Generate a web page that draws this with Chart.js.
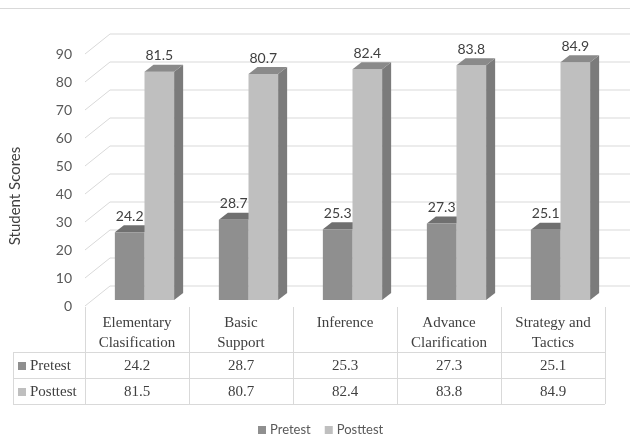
<!DOCTYPE html>
<html>
<head>
<meta charset="utf-8">
<script src="https://cdn.jsdelivr.net/npm/chart.js@4/dist/chart.umd.min.js"></script>
<style>
  html, body { margin: 0; padding: 0; background: #ffffff; }
  #wrap { width: 630px; height: 439px; position: relative; }
</style>
</head>
<body>
<div id="wrap"><canvas id="c" width="630" height="439"></canvas></div>
<script>
// Category names (one entry per table column, split into header lines)
const categories = [
  ['Elementary', 'Clasification'],
  ['Basic', 'Support'],
  ['Inference'],
  ['Advance', 'Clarification'],
  ['Strategy and', 'Tactics']
];
const seriesNames = ['Pretest', 'Posttest'];
const pretest = [24.2, 28.7, 25.3, 27.3, 25.1];
const posttest = [81.5, 80.7, 82.4, 83.8, 84.9];
const yTicks = [0, 10, 20, 30, 40, 50, 60, 70, 80, 90];
const yTitle = 'Student Scores';

// Face colours for the extruded columns
const colors = {
  pre:  { front: '#8f8f8f', top: '#707070', side: '#6a6a6a' },
  post: { front: '#bfbfbf', top: '#8a8a8a', side: '#7b7b7b' }
};

// Oblique projection offsets relative to the plane the bars are drawn in
const G = {
  frontX: -7.5, frontY: 6,    // front edge of the floor / wall
  backX: 17.5, backY: -14,    // back wall
  depthX: 9, depthY: -7       // depth of each column
};

const SANS = 'Lato, "Open Sans", sans-serif';
const SERIF = '"Liberation Serif", "DejaVu Serif", serif';
const GRID = '#d9d9d9';

function poly(ctx, pts, fill) {
  ctx.beginPath();
  ctx.moveTo(pts[0][0], pts[0][1]);
  for (let i = 1; i < pts.length; i++) ctx.lineTo(pts[i][0], pts[i][1]);
  ctx.closePath();
  ctx.fillStyle = fill;
  ctx.fill();
}

const scene3d = {
  id: 'scene3d',
  beforeDatasetsDraw(chart) {
    const { ctx, chartArea: a, scales: { y } } = chart;
    ctx.save();
    // wall grid: diagonal on the side wall, horizontal on the back wall
    ctx.strokeStyle = GRID;
    ctx.lineWidth = 1;
    yTicks.forEach(v => {
      const py = y.getPixelForValue(v);
      ctx.beginPath();
      ctx.moveTo(a.left + G.frontX, py + G.frontY);
      ctx.lineTo(a.left + G.backX, py + G.backY);
      ctx.lineTo(a.right + G.backX, py + G.backY);
      ctx.stroke();
    });
    // top faces of the front-left series (partly hidden by the next column)
    chart.getDatasetMeta(0).data.forEach(bar => {
      const x0 = bar.x - bar.width / 2, x1 = bar.x + bar.width / 2, t = bar.y;
      poly(ctx, [[x0, t], [x1, t], [x1 + G.depthX, t + G.depthY], [x0 + G.depthX, t + G.depthY]], colors.pre.top);
    });
    ctx.restore();
  },
  afterDatasetsDraw(chart) {
    const { ctx, chartArea: a, scales: { x, y } } = chart;
    ctx.save();
    // side and top faces of the second series
    chart.getDatasetMeta(1).data.forEach(bar => {
      const x0 = bar.x - bar.width / 2, x1 = bar.x + bar.width / 2, t = bar.y, b = bar.base;
      poly(ctx, [[x1, t], [x1 + G.depthX, t + G.depthY], [x1 + G.depthX, b + G.depthY], [x1, b]], colors.post.side);
      poly(ctx, [[x0, t], [x1, t], [x1 + G.depthX, t + G.depthY], [x0 + G.depthX, t + G.depthY]], colors.post.top);
    });

    // value labels above each column
    ctx.font = '14px ' + SANS;
    ctx.fillStyle = '#404040';
    ctx.textAlign = 'center';
    ctx.textBaseline = 'middle';
    [0, 1].forEach(di => {
      const vals = chart.data.datasets[di].data;
      chart.getDatasetMeta(di).data.forEach((bar, i) => {
        ctx.fillText(vals[i].toFixed(1), bar.x, bar.y - 16);
      });
    });

    // y tick labels on the front edge
    ctx.font = '14px ' + SANS;
    ctx.fillStyle = '#595959';
    ctx.textAlign = 'right';
    yTicks.forEach(v => {
      ctx.fillText(String(v), a.left - 20.5, y.getPixelForValue(v) + G.frontY);
    });

    // axis title
    ctx.save();
    ctx.translate(15, 196);
    ctx.rotate(-Math.PI / 2);
    ctx.textAlign = 'center';
    ctx.font = '15px ' + SANS;
    ctx.fillStyle = '#404040';
    ctx.fillText(yTitle, 0, 0);
    ctx.restore();

    // data table under the plot
    const step = (a.right - a.left) / categories.length;
    const colEdge = i => a.left + G.frontX + i * step;
    const headTop = y.getPixelForValue(0) + G.frontY + 1;
    const row1 = 352, row2 = 378, row3 = 404, labelLeft = 13;
    ctx.strokeStyle = GRID;
    ctx.lineWidth = 1;
    ctx.beginPath();
    [row1, row2, row3].forEach(ry => {
      ctx.moveTo(labelLeft, ry + 0.5);
      ctx.lineTo(colEdge(categories.length), ry + 0.5);
    });
    ctx.moveTo(labelLeft + 0.5, row1);
    ctx.lineTo(labelLeft + 0.5, row3);
    for (let i = 0; i <= categories.length; i++) {
      const cx = Math.round(colEdge(i)) + 0.5;
      ctx.moveTo(cx, headTop);
      ctx.lineTo(cx, row3);
    }
    ctx.stroke();

    ctx.font = '15px ' + SERIF;
    ctx.fillStyle = '#404040';
    ctx.textAlign = 'center';
    ctx.textBaseline = 'middle';
    categories.forEach((lines, i) => {
      const cx = x.getPixelForValue(i) + G.frontX;
      lines.forEach((ln, k) => ctx.fillText(ln, cx, 323 + k * 20));
      ctx.fillText(pretest[i].toFixed(1), cx, (row1 + row2) / 2 + 1);
      ctx.fillText(posttest[i].toFixed(1), cx, (row2 + row3) / 2 + 1);
    });
    ctx.textAlign = 'left';
    [[seriesNames[0], colors.pre.front, (row1 + row2) / 2], [seriesNames[1], colors.post.front, (row2 + row3) / 2]]
      .forEach(([name, col, cy]) => {
        ctx.fillStyle = col;
        ctx.fillRect(18, cy - 3, 8, 8);
        ctx.fillStyle = '#404040';
        ctx.fillText(name, 30, cy + 1);
      });

    // legend
    ctx.font = '13px ' + SANS;
    ctx.textBaseline = 'middle';
    let lx = 258;
    [[seriesNames[0], colors.pre.front], [seriesNames[1], colors.post.front]].forEach(([name, col]) => {
      ctx.fillStyle = col;
      ctx.fillRect(lx, 426, 8, 8);
      ctx.fillStyle = '#595959';
      ctx.fillText(name, lx + 12, 430);
      lx += 12 + ctx.measureText(name).width + 14;
    });

    // outer frame top edge
    ctx.strokeStyle = GRID;
    ctx.beginPath();
    ctx.moveTo(0, 8.5);
    ctx.lineTo(630, 8.5);
    ctx.stroke();
    ctx.restore();
  }
};

new Chart(document.getElementById('c'), {
  type: 'bar',
  data: {
    labels: categories,
    datasets: [
      { label: seriesNames[0], data: pretest, backgroundColor: colors.pre.front, borderWidth: 0 },
      { label: seriesNames[1], data: posttest, backgroundColor: colors.post.front, borderWidth: 0 }
    ]
  },
  options: {
    responsive: false,
    animation: false,
    devicePixelRatio: 1,
    layout: { padding: { left: 92.5, right: 17.5, top: 48, bottom: 139 } },
    datasets: { bar: { categoryPercentage: 0.57, barPercentage: 1.0 } },
    scales: {
      x: { display: false },
      y: { display: false, min: 0, max: 90, ticks: { stepSize: 10 } }
    },
    plugins: { legend: { display: false }, tooltip: { enabled: false } }
  },
  plugins: [scene3d]
});
</script>
</body>
</html>
